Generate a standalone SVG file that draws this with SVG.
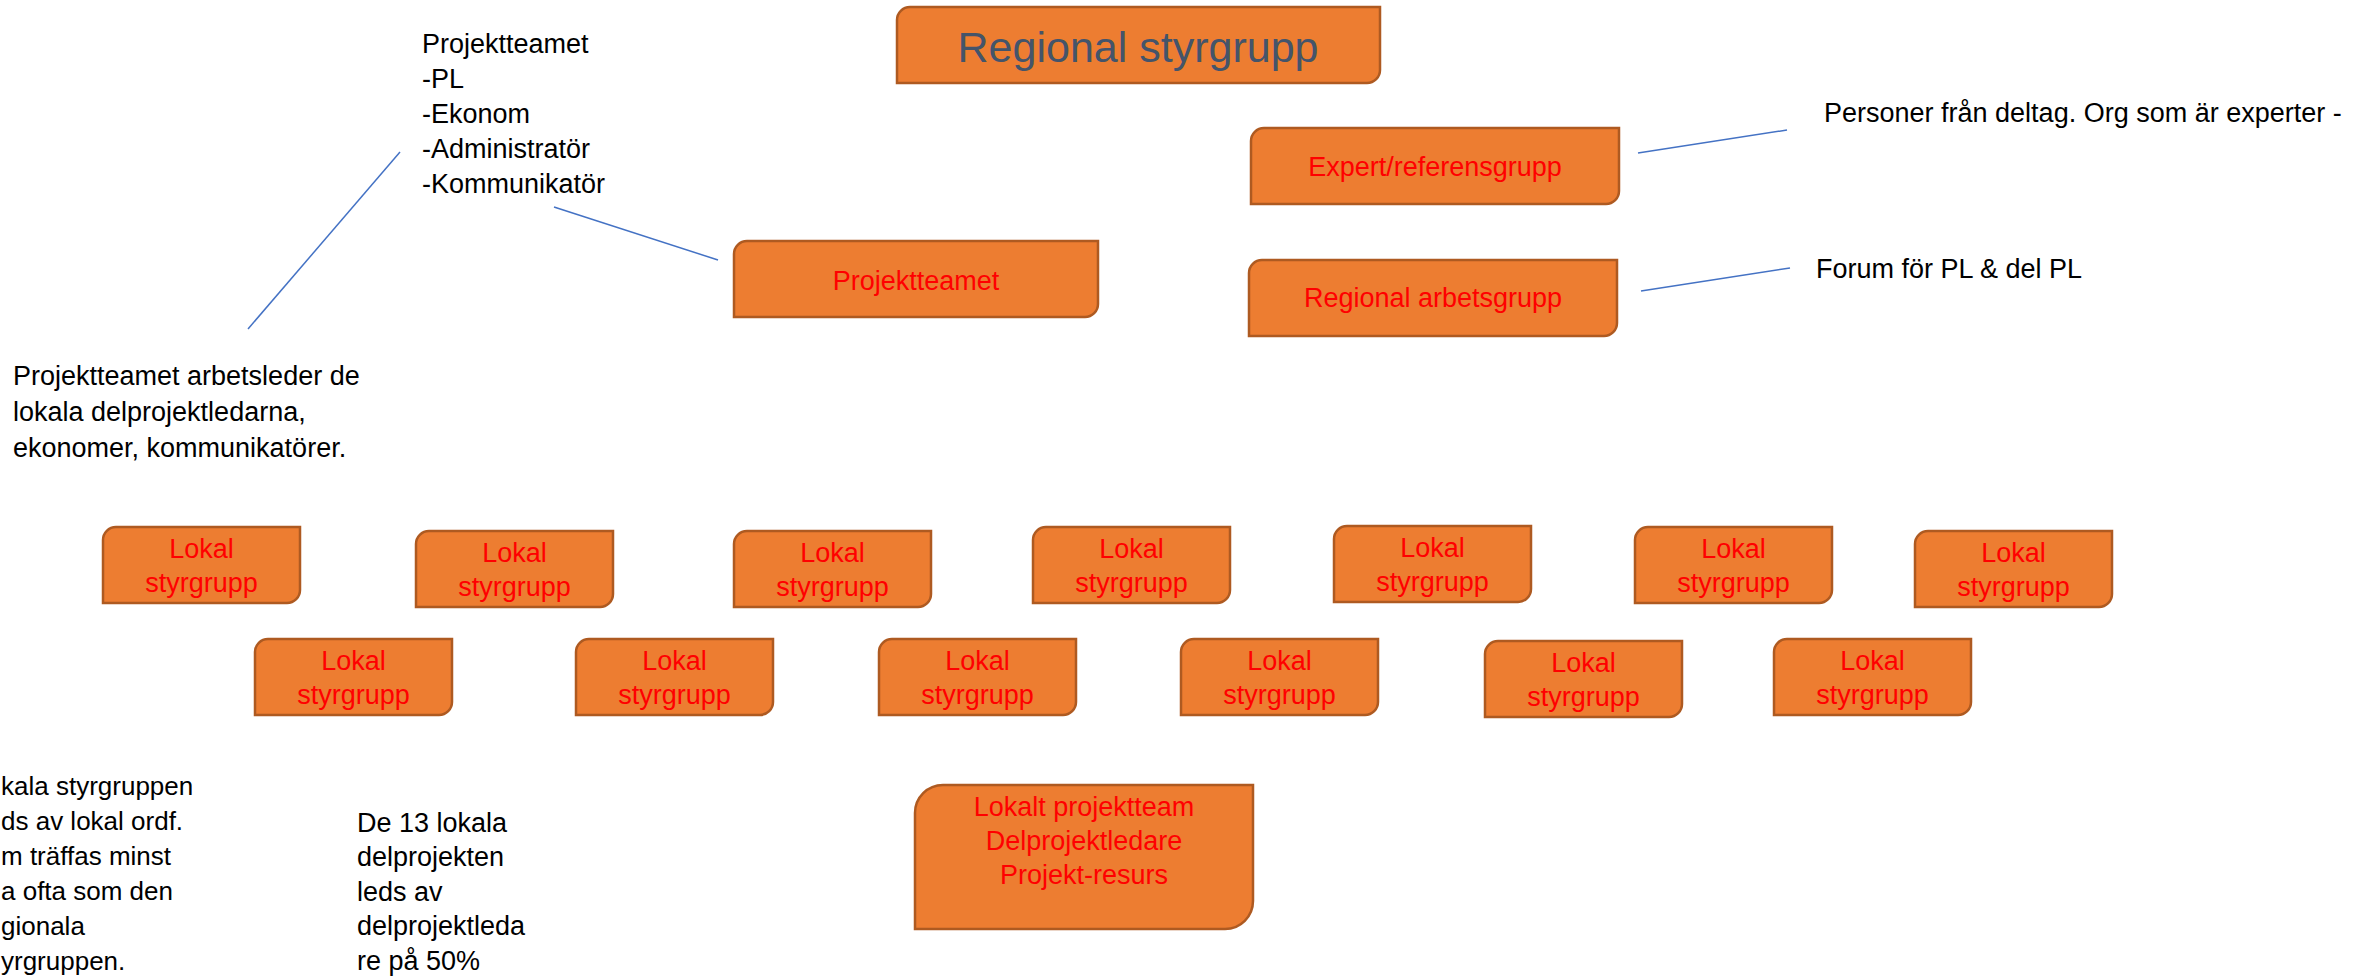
<svg xmlns="http://www.w3.org/2000/svg" width="2369" height="977" viewBox="0 0 2369 977">
<style>
.box{fill:#ED7D31;stroke:#AE5A21;stroke-width:2.5}
.rt{font-family:"Liberation Sans",Arial,sans-serif;font-size:27px;fill:#FF0000;text-anchor:middle}
.bt{font-family:"Liberation Sans",Arial,sans-serif;font-size:27px;fill:#000000}
.sm{font-size:26px}
.title{font-family:"Liberation Sans",Arial,sans-serif;font-size:43px;fill:#44546A;text-anchor:middle}
.ln{stroke:#4472C4;stroke-width:1.5;fill:none}
</style>
<rect width="2369" height="977" fill="#FFFFFF"/>
<g id="connectors">
<line class="ln" x1="248" y1="329" x2="400" y2="152"/>
<line class="ln" x1="554" y1="207" x2="718" y2="260"/>
<line class="ln" x1="1638" y1="153" x2="1787" y2="130"/>
<line class="ln" x1="1641" y1="291" x2="1790" y2="268"/>
</g>
<g id="regional-styrgrupp">
<path class="box" d="M910,7 H1380 V70 A13,13 0 0 1 1367,83 H897 V20 A13,13 0 0 1 910,7 Z"/>
<text class="title" x="1138" y="62">Regional styrgrupp</text>
</g>
<g id="expert">
<path class="box" d="M1264,128 H1619 V191 A13,13 0 0 1 1606,204 H1251 V141 A13,13 0 0 1 1264,128 Z"/>
<text class="rt" x="1435" y="176">Expert/referensgrupp</text>
</g>
<g id="regional-arbetsgrupp">
<path class="box" d="M1262,260 H1617 V323 A13,13 0 0 1 1604,336 H1249 V273 A13,13 0 0 1 1262,260 Z"/>
<text class="rt" x="1433" y="307">Regional arbetsgrupp</text>
</g>
<g id="projektteamet">
<path class="box" d="M747,241 H1098 V304 A13,13 0 0 1 1085,317 H734 V254 A13,13 0 0 1 747,241 Z"/>
<text class="rt" x="916" y="290">Projektteamet</text>
</g>
<g id="lokal-1">
<path class="box" d="M116,527 H300 V590 A13,13 0 0 1 287,603 H103 V540 A13,13 0 0 1 116,527 Z"/>
<text class="rt" x="201.5" y="558">Lokal</text><text class="rt" x="201.5" y="592">styrgrupp</text>
</g>
<g id="lokal-2">
<path class="box" d="M429,531 H613 V594 A13,13 0 0 1 600,607 H416 V544 A13,13 0 0 1 429,531 Z"/>
<text class="rt" x="514.5" y="562">Lokal</text><text class="rt" x="514.5" y="596">styrgrupp</text>
</g>
<g id="lokal-3">
<path class="box" d="M747,531 H931 V594 A13,13 0 0 1 918,607 H734 V544 A13,13 0 0 1 747,531 Z"/>
<text class="rt" x="832.5" y="562">Lokal</text><text class="rt" x="832.5" y="596">styrgrupp</text>
</g>
<g id="lokal-4">
<path class="box" d="M1046,527 H1230 V590 A13,13 0 0 1 1217,603 H1033 V540 A13,13 0 0 1 1046,527 Z"/>
<text class="rt" x="1131.5" y="558">Lokal</text><text class="rt" x="1131.5" y="592">styrgrupp</text>
</g>
<g id="lokal-5">
<path class="box" d="M1347,526 H1531 V589 A13,13 0 0 1 1518,602 H1334 V539 A13,13 0 0 1 1347,526 Z"/>
<text class="rt" x="1432.5" y="557">Lokal</text><text class="rt" x="1432.5" y="591">styrgrupp</text>
</g>
<g id="lokal-6">
<path class="box" d="M1648,527 H1832 V590 A13,13 0 0 1 1819,603 H1635 V540 A13,13 0 0 1 1648,527 Z"/>
<text class="rt" x="1733.5" y="558">Lokal</text><text class="rt" x="1733.5" y="592">styrgrupp</text>
</g>
<g id="lokal-7">
<path class="box" d="M1928,531 H2112 V594 A13,13 0 0 1 2099,607 H1915 V544 A13,13 0 0 1 1928,531 Z"/>
<text class="rt" x="2013.5" y="562">Lokal</text><text class="rt" x="2013.5" y="596">styrgrupp</text>
</g>
<g id="lokal-8">
<path class="box" d="M268,639 H452 V702 A13,13 0 0 1 439,715 H255 V652 A13,13 0 0 1 268,639 Z"/>
<text class="rt" x="353.5" y="670">Lokal</text><text class="rt" x="353.5" y="704">styrgrupp</text>
</g>
<g id="lokal-9">
<path class="box" d="M589,639 H773 V702 A13,13 0 0 1 760,715 H576 V652 A13,13 0 0 1 589,639 Z"/>
<text class="rt" x="674.5" y="670">Lokal</text><text class="rt" x="674.5" y="704">styrgrupp</text>
</g>
<g id="lokal-10">
<path class="box" d="M892,639 H1076 V702 A13,13 0 0 1 1063,715 H879 V652 A13,13 0 0 1 892,639 Z"/>
<text class="rt" x="977.5" y="670">Lokal</text><text class="rt" x="977.5" y="704">styrgrupp</text>
</g>
<g id="lokal-11">
<path class="box" d="M1194,639 H1378 V702 A13,13 0 0 1 1365,715 H1181 V652 A13,13 0 0 1 1194,639 Z"/>
<text class="rt" x="1279.5" y="670">Lokal</text><text class="rt" x="1279.5" y="704">styrgrupp</text>
</g>
<g id="lokal-12">
<path class="box" d="M1498,641 H1682 V704 A13,13 0 0 1 1669,717 H1485 V654 A13,13 0 0 1 1498,641 Z"/>
<text class="rt" x="1583.5" y="672">Lokal</text><text class="rt" x="1583.5" y="706">styrgrupp</text>
</g>
<g id="lokal-13">
<path class="box" d="M1787,639 H1971 V702 A13,13 0 0 1 1958,715 H1774 V652 A13,13 0 0 1 1787,639 Z"/>
<text class="rt" x="1872.5" y="670">Lokal</text><text class="rt" x="1872.5" y="704">styrgrupp</text>
</g>
<g id="lokalt-projektteam">
<path class="box" d="M943,785 H1253 V901 A28,28 0 0 1 1225,929 H915 V813 A28,28 0 0 1 943,785 Z"/>
<text class="rt" x="1084" y="816">Lokalt projektteam</text>
<text class="rt" x="1084" y="850">Delprojektledare</text>
<text class="rt" x="1084" y="884">Projekt-resurs</text>
</g>
<g id="note-projektteamet">
<text class="bt" x="422" y="53">Projektteamet</text>
<text class="bt" x="422" y="88">-PL</text>
<text class="bt" x="422" y="123">-Ekonom</text>
<text class="bt" x="422" y="158">-Administratör</text>
<text class="bt" x="422" y="193">-Kommunikatör</text>
</g>
<g id="note-arbetsleder">
<text class="bt" x="13" y="385">Projektteamet arbetsleder de</text>
<text class="bt" x="13" y="421">lokala delprojektledarna,</text>
<text class="bt" x="13" y="457">ekonomer, kommunikatörer.</text>
</g>
<g id="note-personer">
<text class="bt" x="1824" y="122">Personer från deltag. Org som är experter -</text>
</g>
<g id="note-forum">
<text class="bt" x="1816" y="278">Forum för PL &amp; del PL</text>
</g>
<g id="note-lokala-styrgruppen">
<text class="bt sm" x="1" y="795">kala styrgruppen</text>
<text class="bt sm" x="1" y="830">ds av lokal ordf.</text>
<text class="bt sm" x="1" y="865">m träffas minst</text>
<text class="bt sm" x="1" y="900">a ofta som den</text>
<text class="bt sm" x="1" y="935">gionala</text>
<text class="bt sm" x="1" y="970">yrgruppen.</text>
</g>
<g id="note-delprojekten">
<text class="bt" x="357" y="832">De 13 lokala</text>
<text class="bt" x="357" y="866">delprojekten</text>
<text class="bt" x="357" y="901">leds av</text>
<text class="bt" x="357" y="935">delprojektleda</text>
<text class="bt" x="357" y="970">re på 50%</text>
</g>
</svg>
